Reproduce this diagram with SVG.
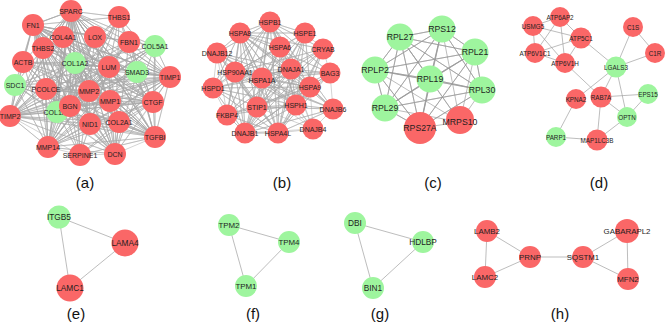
<svg xmlns="http://www.w3.org/2000/svg" width="668" height="324" viewBox="0 0 668 324">
<style>
.e{fill:none;stroke:#a8a8a8;stroke-width:.5;stroke-linejoin:round}
.ec{fill:none;stroke:#999999;stroke-width:.65;stroke-linejoin:round}
.el{stroke:#a0a0a0;stroke-width:.7}
.r{fill:#fa6767}
.g{fill:#9ef59e}
text{font-family:"Liberation Sans",Arial,sans-serif;fill:#1e1e1e;text-anchor:middle;dominant-baseline:central}
.ta{font-size:7px}
.tb{font-size:7px}
.tc{font-size:8.7px}
.td{font-size:6.3px}
.tx{font-size:8.3px}
.tf{font-size:7.9px}
.lab{font-size:15px;dominant-baseline:auto;fill:#111}
</style>
<rect width="668" height="324" fill="#ffffff"/>
<g id="connectors">
<g id="edges-a" class="e">
<path d="M71 11L119 17 71 11 33 25 71 11 63 37 71 11 95 37 71 11 129 42 71 11 155 46 71 11 43 48 71 11 23 62 71 11 75 63 71 11 109 67 71 11 137 72 71 11 170 77 71 11 15 85 71 11 46 89 71 11 89 91 71 11 110 101 71 11 153 102 71 11 10 116 71 11 57 112 71 11 70 106 71 11 90 124 71 11 119 122 71 11 155 137 71 11 48 147 71 11 80 155 71 11 115 154"/>
<path d="M33 25L71 11 33 25 119 17 33 25 63 37 33 25 95 37 33 25 129 42 33 25 155 46 33 25 43 48 33 25 23 62 33 25 75 63 33 25 109 67 33 25 137 72 33 25 170 77 33 25 15 85 33 25 46 89 33 25 89 91 33 25 110 101 33 25 153 102 33 25 10 116 33 25 57 112 33 25 70 106 33 25 90 124 33 25 119 122 33 25 155 137 33 25 48 147 33 25 80 155 33 25 115 154"/>
<path d="M75 63L71 11 75 63 119 17 75 63 33 25 75 63 63 37 75 63 95 37 75 63 129 42 75 63 155 46 75 63 43 48 75 63 23 62 75 63 109 67 75 63 137 72 75 63 170 77 75 63 15 85 75 63 46 89 75 63 89 91 75 63 110 101 75 63 153 102 75 63 10 116 75 63 57 112 75 63 70 106 75 63 90 124 75 63 119 122 75 63 155 137 75 63 48 147 75 63 80 155 75 63 115 154"/>
<path d="M89 91L71 11 89 91 119 17 89 91 33 25 89 91 63 37 89 91 95 37 89 91 129 42 89 91 155 46 89 91 43 48 89 91 23 62 89 91 109 67 89 91 137 72 89 91 170 77 89 91 15 85 89 91 46 89 89 91 110 101 89 91 153 102 89 91 10 116 89 91 57 112 89 91 70 106 89 91 90 124 89 91 119 122 89 91 155 137 89 91 48 147 89 91 80 155 89 91 115 154"/>
<path d="M57 112L71 11 57 112 119 17 57 112 33 25 57 112 63 37 57 112 95 37 57 112 129 42 57 112 155 46 57 112 43 48 57 112 23 62 57 112 109 67 57 112 137 72 57 112 170 77 57 112 15 85 57 112 46 89 57 112 110 101 57 112 153 102 57 112 10 116 57 112 70 106 57 112 90 124 57 112 119 122 57 112 155 137 57 112 48 147 57 112 80 155 57 112 115 154"/>
<path d="M70 106L71 11 70 106 119 17 70 106 33 25 70 106 63 37 70 106 95 37 70 106 129 42 70 106 155 46 70 106 43 48 70 106 23 62 70 106 109 67 70 106 137 72 70 106 170 77 70 106 15 85 70 106 46 89 70 106 110 101 70 106 153 102 70 106 10 116 70 106 90 124 70 106 119 122 70 106 155 137 70 106 48 147 70 106 80 155 70 106 115 154"/>
<path d="M109 67L71 11 109 67 119 17 109 67 33 25 109 67 63 37 109 67 95 37 109 67 129 42 109 67 155 46 109 67 43 48 109 67 23 62 109 67 137 72 109 67 170 77 109 67 15 85 109 67 46 89 109 67 110 101 109 67 153 102 109 67 10 116 109 67 90 124 109 67 119 122 109 67 155 137 109 67 48 147 109 67 80 155 109 67 115 154"/>
<path d="M170 77L71 11 170 77 119 17 170 77 33 25 170 77 63 37 170 77 95 37 170 77 129 42 170 77 155 46 170 77 43 48 170 77 23 62 170 77 137 72 170 77 15 85 170 77 46 89 170 77 110 101 170 77 153 102 170 77 10 116 170 77 90 124 170 77 119 122 170 77 155 137 170 77 48 147 170 77 80 155 170 77 115 154"/>
<path d="M153 102L71 11 153 102 119 17 153 102 33 25 153 102 63 37 153 102 95 37 153 102 129 42 153 102 155 46 153 102 43 48 153 102 23 62 153 102 137 72 153 102 15 85 153 102 46 89 153 102 110 101 153 102 10 116 153 102 90 124 153 102 119 122 153 102 155 137 153 102 48 147 153 102 80 155 153 102 115 154"/>
<path d="M155 137L71 11 155 137 119 17 155 137 33 25 155 137 63 37 155 137 95 37 155 137 129 42 155 137 155 46 155 137 43 48 155 137 23 62 155 137 137 72 155 137 15 85 155 137 46 89 155 137 110 101 155 137 10 116 155 137 90 124 155 137 119 122 155 137 48 147 155 137 80 155 155 137 115 154"/>
<path d="M115 154L71 11 115 154 119 17 115 154 33 25 115 154 63 37 115 154 95 37 115 154 129 42 115 154 155 46 115 154 43 48 115 154 23 62 115 154 137 72 115 154 15 85 115 154 46 89 115 154 110 101 115 154 10 116 115 154 90 124 115 154 119 122 115 154 48 147 115 154 80 155"/>
<path d="M10 116L71 11 10 116 119 17 10 116 63 37 10 116 95 37 10 116 129 42 10 116 155 46 10 116 43 48 10 116 23 62 10 116 137 72 10 116 15 85 10 116 46 89 10 116 110 101 10 116 90 124 10 116 119 122 10 116 48 147 10 116 80 155"/>
<path d="M48 147L71 11 48 147 119 17 48 147 63 37 48 147 95 37 48 147 129 42 48 147 155 46 48 147 43 48 48 147 23 62 48 147 137 72 48 147 15 85 48 147 46 89 48 147 110 101 48 147 90 124 48 147 119 122 48 147 80 155"/>
</g>
<g id="edges-b" class="e">
<path d="M240 33L270 22 240 33 305 33 240 33 217 53 240 33 280 47 240 33 323 49 240 33 235 72 240 33 291 69 240 33 330 73 240 33 262 79 240 33 213 88 240 33 310 87 240 33 257 107 240 33 296 105 240 33 333 109 240 33 227 115 240 33 245 133 240 33 278 133 240 33 313 129"/>
<path d="M262 79L270 22 262 79 240 33 262 79 305 33 262 79 217 53 262 79 280 47 262 79 323 49 262 79 235 72 262 79 291 69 262 79 330 73 262 79 213 88 262 79 310 87 262 79 257 107 262 79 296 105 262 79 333 109 262 79 227 115 262 79 245 133 262 79 278 133 262 79 313 129"/>
<path d="M235 72L270 22 235 72 305 33 235 72 217 53 235 72 280 47 235 72 323 49 235 72 291 69 235 72 330 73 235 72 213 88 235 72 310 87 235 72 257 107 235 72 296 105 235 72 333 109 235 72 227 115 235 72 245 133 235 72 278 133 235 72 313 129"/>
<path d="M245 133L270 22 245 133 305 33 245 133 217 53 245 133 280 47 245 133 323 49 245 133 291 69 245 133 330 73 245 133 213 88 245 133 310 87 245 133 257 107 245 133 296 105 245 133 333 109 245 133 227 115 245 133 278 133 245 133 313 129"/>
<path d="M296 105L270 22 296 105 305 33 296 105 217 53 296 105 280 47 296 105 323 49 296 105 291 69 296 105 330 73 296 105 213 88 296 105 310 87 296 105 257 107 296 105 333 109 296 105 227 115 296 105 278 133 296 105 313 129"/>
<path d="M278 133L270 22 278 133 305 33 278 133 217 53 278 133 280 47 278 133 323 49 278 133 291 69 278 133 330 73 278 133 213 88 278 133 310 87 278 133 257 107 278 133 333 109 278 133 227 115 278 133 313 129"/>
<path d="M291 69L270 22 291 69 305 33 291 69 217 53 291 69 280 47 291 69 323 49 291 69 330 73 291 69 213 88 291 69 310 87 291 69 257 107 291 69 333 109 291 69 227 115 291 69 313 129"/>
<path d="M310 87L270 22 310 87 305 33 310 87 217 53 310 87 280 47 310 87 323 49 310 87 330 73 310 87 213 88 310 87 257 107 310 87 333 109 310 87 227 115 310 87 313 129"/>
<path d="M257 107L270 22 257 107 305 33 257 107 217 53 257 107 280 47 257 107 323 49 257 107 330 73 257 107 213 88 257 107 333 109 257 107 227 115 257 107 313 129"/>
<path d="M270 22L305 33 270 22 217 53 270 22 280 47 270 22 323 49 270 22 330 73 270 22 213 88 270 22 333 109 270 22 227 115 270 22 313 129"/>
<path d="M217 53L213 88M323 49L330 73M330 73L333 109M333 109L313 129M227 115L213 88M305 33L213 88M305 33L323 49M217 53L227 115"/>
</g>
<g id="edges-c" class="ec">
<path d="M442 29L400 37 442 29 475 52 442 29 375 70 442 29 430 79 442 29 482 90 442 29 385 108 442 29 420 128 442 29 460 122"/>
<path d="M400 37L475 52 400 37 375 70 400 37 430 79 400 37 482 90 400 37 385 108 400 37 420 128 400 37 460 122"/>
<path d="M475 52L375 70 475 52 430 79 475 52 482 90 475 52 385 108 475 52 420 128 475 52 460 122"/>
<path d="M375 70L430 79 375 70 482 90 375 70 385 108 375 70 420 128 375 70 460 122"/>
<path d="M430 79L482 90 430 79 385 108 430 79 420 128 430 79 460 122"/>
<path d="M482 90L385 108 482 90 420 128 482 90 460 122"/>
<path d="M385 108L420 128 385 108 460 122M420 128L460 122"/>
</g>
<g id="edges-d" class="el">
<line x1="560" y1="17" x2="533" y2="26"/>
<line x1="560" y1="17" x2="581" y2="38"/>
<line x1="560" y1="17" x2="535" y2="53"/>
<line x1="560" y1="17" x2="565" y2="63"/>
<line x1="533" y1="26" x2="581" y2="38"/>
<line x1="533" y1="26" x2="535" y2="53"/>
<line x1="533" y1="26" x2="565" y2="63"/>
<line x1="581" y1="38" x2="535" y2="53"/>
<line x1="581" y1="38" x2="565" y2="63"/>
<line x1="535" y1="53" x2="565" y2="63"/>
<line x1="581" y1="38" x2="616" y2="67"/>
<line x1="565" y1="63" x2="601" y2="97"/>
<line x1="633" y1="27" x2="655" y2="53"/>
<line x1="633" y1="27" x2="616" y2="67"/>
<line x1="655" y1="53" x2="616" y2="67"/>
<line x1="616" y1="67" x2="576" y2="99"/>
<line x1="616" y1="67" x2="601" y2="97"/>
<line x1="616" y1="67" x2="627" y2="117"/>
<line x1="601" y1="97" x2="648" y2="94"/>
<line x1="601" y1="97" x2="627" y2="117"/>
<line x1="601" y1="97" x2="597" y2="140"/>
<line x1="648" y1="94" x2="627" y2="117"/>
<line x1="627" y1="117" x2="597" y2="140"/>
<line x1="576" y1="99" x2="556" y2="137"/>
<line x1="556" y1="137" x2="597" y2="140"/>
</g>
<g id="edges-e" class="el">
<line x1="59" y1="217" x2="125" y2="243"/>
<line x1="59" y1="217" x2="70" y2="288"/>
<line x1="125" y1="243" x2="70" y2="288"/>
</g>
<g id="edges-f" class="el">
<line x1="229" y1="225" x2="289" y2="242"/>
<line x1="229" y1="225" x2="246" y2="286"/>
<line x1="289" y1="242" x2="246" y2="286"/>
</g>
<g id="edges-g" class="el">
<line x1="355" y1="223" x2="423" y2="242"/>
<line x1="355" y1="223" x2="373" y2="288"/>
<line x1="423" y1="242" x2="373" y2="288"/>
</g>
<g id="edges-h" class="el">
<line x1="487" y1="231" x2="485" y2="277"/>
<line x1="487" y1="231" x2="530" y2="257"/>
<line x1="485" y1="277" x2="530" y2="257"/>
<line x1="530" y1="257" x2="583" y2="257"/>
<line x1="583" y1="257" x2="627" y2="231"/>
<line x1="583" y1="257" x2="628" y2="279"/>
<line x1="627" y1="231" x2="628" y2="279"/>
</g>
</g>

<g id="nodes-a" class="ta">
<g id="SPARC"><circle class="r" cx="71" cy="11" r="11"/><text x="71" y="11">SPARC</text></g>
<g id="THBS1"><circle class="r" cx="119" cy="17" r="11"/><text x="119" y="17">THBS1</text></g>
<g id="FN1"><circle class="r" cx="33" cy="25" r="11"/><text x="33" y="25">FN1</text></g>
<g id="COL4A1"><circle class="r" cx="63" cy="37" r="11"/><text x="63" y="37">COL4A1</text></g>
<g id="LOX"><circle class="r" cx="95" cy="37" r="11"/><text x="95" y="37">LOX</text></g>
<g id="FBN1"><circle class="r" cx="129" cy="42" r="11"/><text x="129" y="42">FBN1</text></g>
<g id="COL5A1"><circle class="g" cx="155" cy="46" r="11"/><text x="155" y="46">COL5A1</text></g>
<g id="THBS2"><circle class="r" cx="43" cy="48" r="11"/><text x="43" y="48">THBS2</text></g>
<g id="ACTB"><circle class="r" cx="23" cy="62" r="11"/><text x="23" y="62">ACTB</text></g>
<g id="COL1A2"><circle class="g" cx="75" cy="63" r="11"/><text x="75" y="63">COL1A2</text></g>
<g id="LUM"><circle class="r" cx="109" cy="67" r="11"/><text x="109" y="67">LUM</text></g>
<g id="SMAD3"><circle class="g" cx="137" cy="72" r="11"/><text x="137" y="72">SMAD3</text></g>
<g id="TIMP1"><circle class="r" cx="170" cy="77" r="11"/><text x="170" y="77">TIMP1</text></g>
<g id="SDC1"><circle class="g" cx="15" cy="85" r="11"/><text x="15" y="85">SDC1</text></g>
<g id="PCOLCE"><circle class="r" cx="46" cy="89" r="11"/><text x="46" y="89">PCOLCE</text></g>
<g id="MMP2"><circle class="r" cx="89" cy="91" r="11"/><text x="89" y="91">MMP2</text></g>
<g id="MMP1"><circle class="r" cx="110" cy="101" r="11"/><text x="110" y="101">MMP1</text></g>
<g id="CTGF"><circle class="r" cx="153" cy="102" r="11"/><text x="153" y="102">CTGF</text></g>
<g id="TIMP2"><circle class="r" cx="10" cy="116" r="11"/><text x="10" y="116">TIMP2</text></g>
<g id="COL1A1"><circle class="g" cx="57" cy="112" r="11"/><text x="57" y="112">COL1A1</text></g>
<g id="BGN"><circle class="r" cx="70" cy="106" r="11"/><text x="70" y="106">BGN</text></g>
<g id="NID1"><circle class="r" cx="90" cy="124" r="11"/><text x="90" y="124">NID1</text></g>
<g id="COL2A1"><circle class="r" cx="119" cy="122" r="11"/><text x="119" y="122">COL2A1</text></g>
<g id="TGFBI"><circle class="r" cx="155" cy="137" r="11"/><text x="155" y="137">TGFBI</text></g>
<g id="MMP14"><circle class="r" cx="48" cy="147" r="11"/><text x="48" y="147">MMP14</text></g>
<g id="SERPINE1"><circle class="r" cx="80" cy="155" r="11"/><text x="80" y="155">SERPINE1</text></g>
<g id="DCN"><circle class="r" cx="115" cy="154" r="11"/><text x="115" y="154">DCN</text></g>
</g>

<g id="nodes-b" class="tb">
<g id="HSPB1"><circle class="r" cx="270" cy="22" r="10.5"/><text x="270" y="22">HSPB1</text></g>
<g id="HSPA8"><circle class="r" cx="240" cy="33" r="10.5"/><text x="240" y="33">HSPA8</text></g>
<g id="HSPE1"><circle class="r" cx="305" cy="33" r="10.5"/><text x="305" y="33">HSPE1</text></g>
<g id="DNAJB12"><circle class="r" cx="217" cy="53" r="10.5"/><text x="217" y="53">DNAJB12</text></g>
<g id="HSPA6"><circle class="r" cx="280" cy="47" r="10.5"/><text x="280" y="47">HSPA6</text></g>
<g id="CRYAB"><circle class="r" cx="323" cy="49" r="10.5"/><text x="323" y="49">CRYAB</text></g>
<g id="HSP90AA1"><circle class="r" cx="235" cy="72" r="10.5"/><text x="235" y="72">HSP90AA1</text></g>
<g id="DNAJA1"><circle class="r" cx="291" cy="69" r="10.5"/><text x="291" y="69">DNAJA1</text></g>
<g id="BAG3"><circle class="r" cx="330" cy="73" r="10.5"/><text x="330" y="73">BAG3</text></g>
<g id="HSPA1A"><circle class="r" cx="262" cy="78" r="10.5"/><text x="262" y="80">HSPA1A</text></g>
<g id="HSPD1"><circle class="r" cx="213" cy="88" r="10.5"/><text x="213" y="88">HSPD1</text></g>
<g id="HSPA9"><circle class="r" cx="310" cy="87" r="10.5"/><text x="310" y="87">HSPA9</text></g>
<g id="STIP1"><circle class="r" cx="257" cy="107" r="10.5"/><text x="257" y="107">STIP1</text></g>
<g id="HSPH1"><circle class="r" cx="296" cy="105" r="10.5"/><text x="296" y="105">HSPH1</text></g>
<g id="DNAJB6"><circle class="r" cx="333" cy="109" r="10.5"/><text x="333" y="109">DNAJB6</text></g>
<g id="FKBP4"><circle class="r" cx="227" cy="115" r="10.5"/><text x="227" y="115">FKBP4</text></g>
<g id="DNAJB1"><circle class="r" cx="245" cy="133" r="10.5"/><text x="245" y="133">DNAJB1</text></g>
<g id="DNAJB4"><circle class="r" cx="313" cy="129" r="10.5"/><text x="313" y="129">DNAJB4</text></g>
<g id="HSPA4L"><circle class="r" cx="278" cy="133" r="10.5"/><text x="278" y="133">HSPA4L</text></g>
</g>

<g id="nodes-c" class="tc">
<g id="RPS12"><circle class="g" cx="442" cy="29" r="13.5"/><text x="442" y="29">RPS12</text></g>
<g id="RPL27"><circle class="g" cx="400" cy="37" r="13.5"/><text x="400" y="37">RPL27</text></g>
<g id="RPL21"><circle class="g" cx="475" cy="52" r="13.5"/><text x="475" y="52">RPL21</text></g>
<g id="RPLP2"><circle class="g" cx="375" cy="70" r="13.5"/><text x="375" y="70">RPLP2</text></g>
<g id="RPL19"><circle class="g" cx="430" cy="79" r="13.5"/><text x="430" y="79">RPL19</text></g>
<g id="RPL30"><circle class="g" cx="482" cy="90" r="13.5"/><text x="482" y="90">RPL30</text></g>
<g id="RPL29"><circle class="g" cx="385" cy="108" r="13.5"/><text x="385" y="108">RPL29</text></g>
<g id="MRPS10"><circle class="r" cx="460" cy="120" r="14"/><text x="460" y="122">MRPS10</text></g>
<g id="RPS27A"><circle class="r" cx="420" cy="128" r="16"/><text x="420" y="128">RPS27A</text></g>
</g>

<g id="nodes-d" class="td">
<g id="ATP6AP2"><circle class="r" cx="560" cy="17" r="10"/><text x="560" y="17">ATP6AP2</text></g>
<g id="USMG5"><circle class="r" cx="533" cy="26" r="10"/><text x="533" y="26">USMG5</text></g>
<g id="ATP5C1"><circle class="r" cx="581" cy="38" r="10.5"/><text x="581" y="38">ATP5C1</text></g>
<g id="ATP6V1C1"><circle class="r" cx="535" cy="53" r="10"/><text x="535" y="53">ATP6V1C1</text></g>
<g id="ATP6V1H"><circle class="r" cx="565" cy="63" r="10"/><text x="565" y="63">ATP6V1H</text></g>
<g id="C1S"><circle class="r" cx="633" cy="27" r="10"/><text x="633" y="27">C1S</text></g>
<g id="C1R"><circle class="r" cx="655" cy="53" r="10"/><text x="655" y="53">C1R</text></g>
<g id="LGALS3"><circle class="g" cx="616" cy="67" r="10.5"/><text x="616" y="67">LGALS3</text></g>
<g id="KPNA2"><circle class="r" cx="576" cy="99" r="10"/><text x="576" y="99">KPNA2</text></g>
<g id="RAB7A"><circle class="r" cx="601" cy="97" r="10.5"/><text x="601" y="97">RAB7A</text></g>
<g id="EPS15"><circle class="g" cx="648" cy="94" r="10"/><text x="648" y="94">EPS15</text></g>
<g id="OPTN"><circle class="g" cx="627" cy="117" r="10"/><text x="627" y="117">OPTN</text></g>
<g id="PARP1"><circle class="g" cx="556" cy="137" r="10"/><text x="556" y="137">PARP1</text></g>
<g id="MAP1LC3B"><circle class="r" cx="597" cy="140" r="10.5"/><text x="597" y="140">MAP1LC3B</text></g>
</g>

<g id="nodes-e" class="tx">
<g id="ITGB5"><circle class="g" cx="59" cy="217" r="11.5"/><text x="59" y="217">ITGB5</text></g>
<g id="LAMA4"><circle class="r" cx="125" cy="243" r="13.5"/><text x="125" y="243">LAMA4</text></g>
<g id="LAMC1"><circle class="r" cx="70" cy="288" r="13.5"/><text x="70" y="288">LAMC1</text></g>
</g>

<g id="nodes-f" class="tf">
<g id="TPM2"><circle class="g" cx="229" cy="225" r="11"/><text x="229" y="225">TPM2</text></g>
<g id="TPM4"><circle class="g" cx="289" cy="242" r="11"/><text x="289" y="242">TPM4</text></g>
<g id="TPM1"><circle class="g" cx="246" cy="286" r="11"/><text x="246" y="286">TPM1</text></g>
</g>

<g id="nodes-g" class="tx">
<g id="DBI"><circle class="g" cx="355" cy="223" r="11"/><text x="355" y="223">DBI</text></g>
<g id="HDLBP"><circle class="g" cx="423" cy="242" r="11"/><text x="423" y="242">HDLBP</text></g>
<g id="BIN1"><circle class="g" cx="373" cy="288" r="11"/><text x="373" y="288">BIN1</text></g>
</g>

<g id="nodes-h" class="tf">
<g id="LAMB2"><circle class="r" cx="487" cy="231" r="11"/><text x="487" y="231">LAMB2</text></g>
<g id="LAMC2"><circle class="r" cx="485" cy="277" r="11"/><text x="485" y="277">LAMC2</text></g>
<g id="PRNP"><circle class="r" cx="530" cy="257" r="11"/><text x="530" y="257">PRNP</text></g>
<g id="SQSTM1"><circle class="r" cx="583" cy="257" r="11"/><text x="583" y="257">SQSTM1</text></g>
<g id="GABARAPL2"><circle class="r" cx="627" cy="231" r="12"/><text x="627" y="231">GABARAPL2</text></g>
<g id="MFN2"><circle class="r" cx="628" cy="279" r="11"/><text x="628" y="279">MFN2</text></g>
</g>

<g id="panel-labels" class="lab">
<text class="lab" x="85" y="188">(a)</text>
<text class="lab" x="282" y="188">(b)</text>
<text class="lab" x="433" y="188">(c)</text>
<text class="lab" x="599" y="188">(d)</text>
<text class="lab" x="76" y="319">(e)</text>
<text class="lab" x="253" y="319">(f)</text>
<text class="lab" x="380" y="319">(g)</text>
<text class="lab" x="560" y="319">(h)</text>
</g>
</svg>
